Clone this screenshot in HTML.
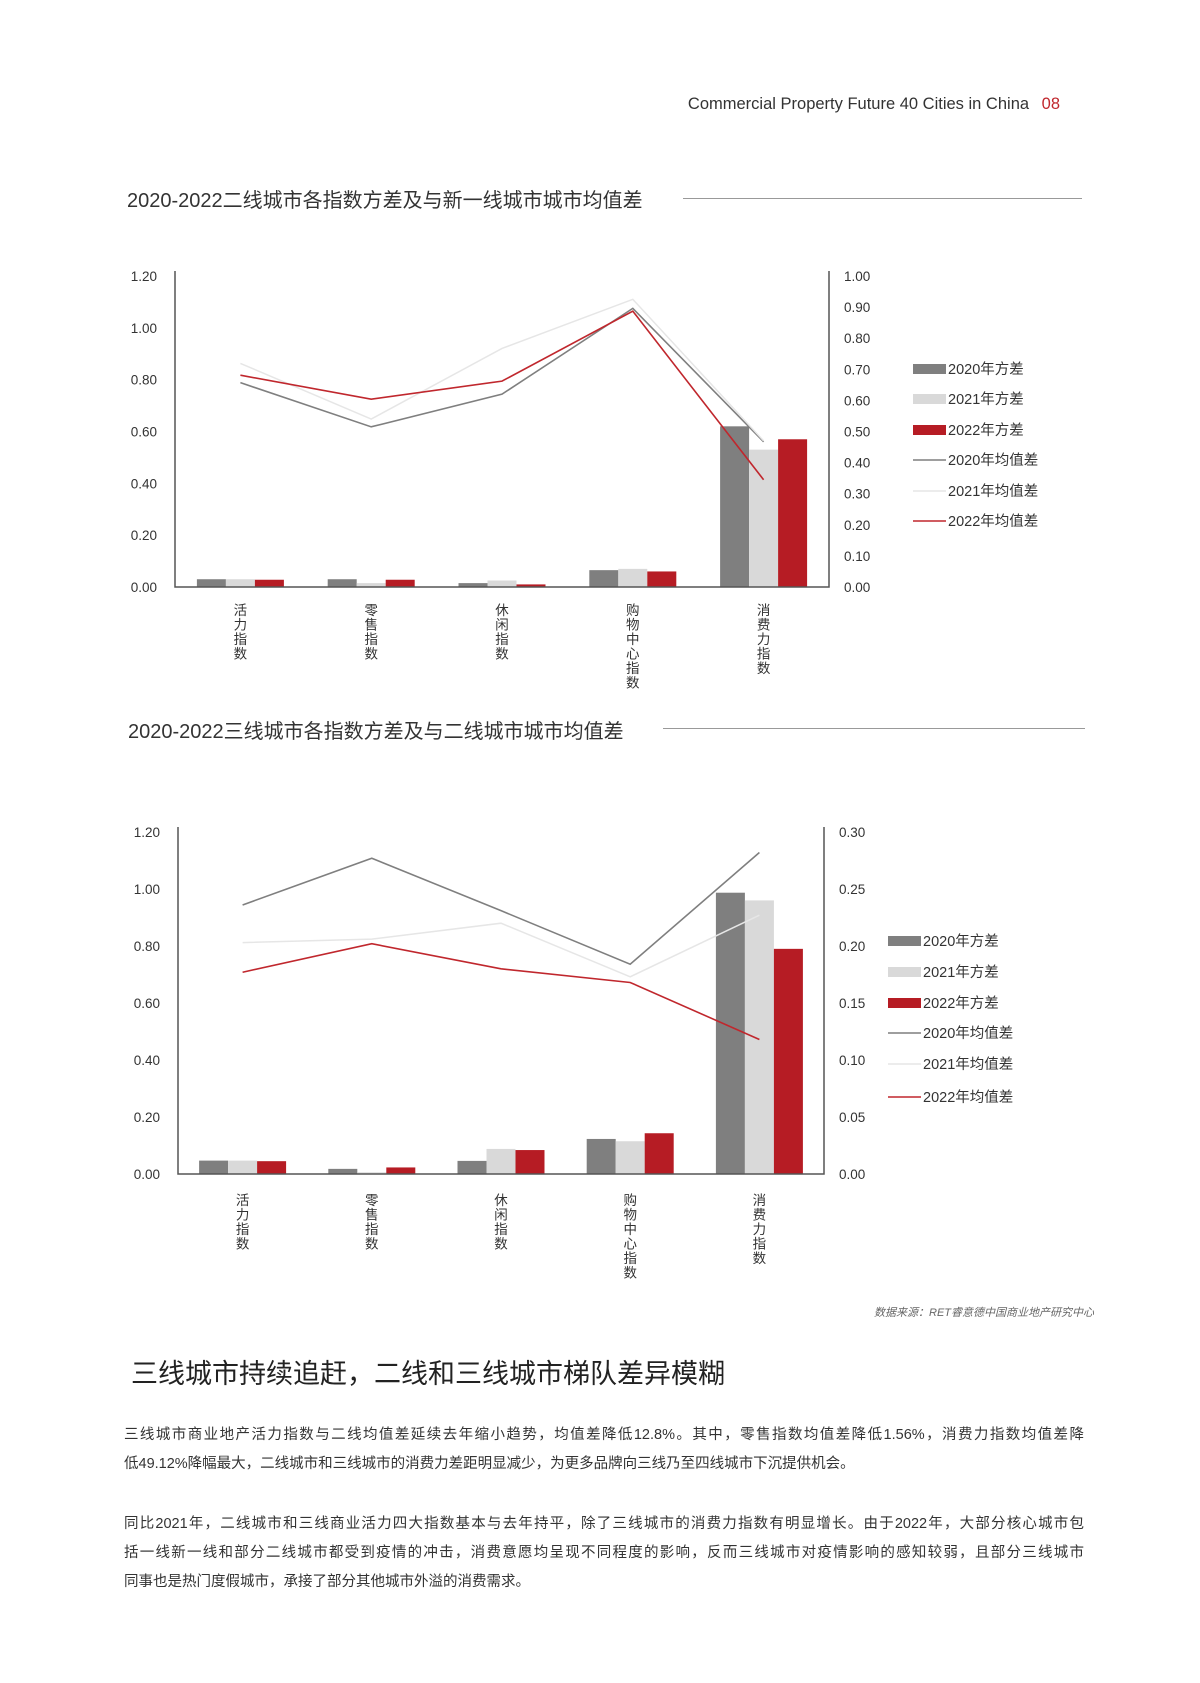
<!DOCTYPE html>
<html><head><meta charset="utf-8"><style>
body{margin:0;background:#fff;}
#page{position:relative;width:1200px;height:1683px;overflow:hidden;background:#fff;font-family:"Liberation Sans","Noto Sans CJK SC",sans-serif;color:#333;}
.abs{position:absolute;white-space:nowrap;}
.para div{height:29px;line-height:29px;text-align:justify;text-align-last:justify;font-size:14.5px;color:#333;}
</style></head><body>
<div id="page">
<div class="abs" style="right:140px;top:95px;font-size:16.5px;color:#333;">Commercial Property Future 40 Cities in China <span style="color:#c0272d;margin-left:8px;">08</span></div>
<div class="abs" style="left:127px;top:184px;font-size:20px;color:#333;">2020-2022二线城市各指数方差及与新一线城市城市均值差</div>
<div class="abs" style="left:683px;top:198px;width:399px;height:1px;background:#999;"></div>
<div class="abs" style="left:128px;top:715px;font-size:20px;color:#333;">2020-2022三线城市各指数方差及与二线城市城市均值差</div>
<div class="abs" style="left:663px;top:728px;width:422px;height:1px;background:#999;"></div>
<svg id="charts" width="1200" height="1683" style="position:absolute;left:0;top:0;"></svg>
<div class="abs" style="left:834px;top:1304px;width:260px;text-align:right;font-size:11px;font-style:italic;color:#666;padding-right:4px;">数据来源：RET睿意德中国商业地产研究中心</div>
<div class="abs" style="left:131px;top:1352px;font-size:27px;color:#222;">三线城市持续追赶，二线和三线城市梯队差异模糊</div>
<div class="abs para" style="left:124px;top:1421px;width:960px;">
<div>三线城市商业地产活力指数与二线均值差延续去年缩小趋势，均值差降低12.8%。其中，零售指数均值差降低1.56%，消费力指数均值差降</div>
<div style="text-align-last:left;">低49.12%降幅最大，二线城市和三线城市的消费力差距明显减少，为更多品牌向三线乃至四线城市下沉提供机会。</div>
</div>
<div class="abs para" style="left:124px;top:1510px;width:960px;">
<div>同比2021年，二线城市和三线商业活力四大指数基本与去年持平，除了三线城市的消费力指数有明显增长。由于2022年，大部分核心城市包</div>
<div>括一线新一线和部分二线城市都受到疫情的冲击，消费意愿均呈现不同程度的影响，反而三线城市对疫情影响的感知较弱，且部分三线城市</div>
<div style="text-align-last:left;">同事也是热门度假城市，承接了部分其他城市外溢的消费需求。</div>
</div>
</div>
<script>
const categories=["活力指数","零售指数","休闲指数","购物中心指数","消费力指数"];
const seriesNames=["2020年方差","2021年方差","2022年方差","2020年均值差","2021年均值差","2022年均值差"];
const c1Var2020=[0.03,0.03,0.015,0.065,0.62];
const c1Var2021=[0.03,0.015,0.025,0.07,0.53];
const c1Var2022=[0.028,0.028,0.01,0.06,0.57];
const c1Mean2020=[0.657,0.515,0.62,0.896,0.467];
const c1Mean2021=[0.719,0.54,0.767,0.925,0.47];
const c1Mean2022=[0.681,0.604,0.662,0.887,0.345];
const c1LeftTicks=["0.00","0.20","0.40","0.60","0.80","1.00","1.20"];
const c1RightTicks=["0.00","0.10","0.20","0.30","0.40","0.50","0.60","0.70","0.80","0.90","1.00"];
const c2Var2020=[0.047,0.018,0.046,0.123,0.987];
const c2Var2021=[0.047,0.006,0.088,0.115,0.96];
const c2Var2022=[0.045,0.023,0.084,0.143,0.79];
const c2Mean2020=[0.236,0.277,0.231,0.184,0.282];
const c2Mean2021=[0.203,0.206,0.22,0.173,0.227];
const c2Mean2022=[0.177,0.202,0.18,0.168,0.118];
const c2LeftTicks=["0.00","0.20","0.40","0.60","0.80","1.00","1.20"];
const c2RightTicks=["0.00","0.05","0.10","0.15","0.20","0.25","0.30"];

const NS="http://www.w3.org/2000/svg";
const svg=document.getElementById('charts');
const barColors=["#7f7f7f","#d9d9d9","#b61c24"];
const lineColors=["#7f7f7f","#e6e6e6","#c0272d"];
function mk(tag,attrs,parent){const e=document.createElementNS(NS,tag);for(const k in attrs)e.setAttribute(k,attrs[k]);(parent||svg).appendChild(e);return e;}

function drawChart(cfg){
  const g=mk('g',{});
  
  
  const L=cfg.left,R=cfg.right,T=cfg.top,B=cfg.bottom;
  const lMax=parseFloat(cfg.lTicks[cfg.lTicks.length-1]);
  const rMax=parseFloat(cfg.rTicks[cfg.rTicks.length-1]);
  const yL=v=>B-(v/lMax)*(B-T);
  const yR=v=>B-(v/rMax)*(B-T);
  const band=(R-L)/categories.length;
  const xC=i=>L+band*(i+0.5);
  const bw=29;
  cfg.bars.forEach((arr,s)=>{
    arr.forEach((v,i)=>{
      const r=mk('rect',{x:xC(i)+(s-1.5)*bw,y:yL(v),width:bw,height:B-yL(v),fill:barColors[s]},g);
      
      
    });
  });
  cfg.lines.forEach((arr,s)=>{
    const pts=arr.map((v,i)=>xC(i)+','+yR(v)).join(' ');
    const p=mk('polyline',{points:pts,fill:'none',stroke:lineColors[s],'stroke-width':s==1?1.5:1.6},g);
    
    
  });
  const ax=mk('path',{d:`M${L},${T-5}V${B}H${R}V${T-5}`,fill:'none',stroke:'#555','stroke-width':1.5},g);
  
  
  cfg.lTicks.forEach(t=>{
    const e=mk('text',{x:L-18,y:yL(parseFloat(t))+5,'text-anchor':'end','font-size':13.5,fill:'#333'},g);
    e.textContent=t;
    
    
  });
  cfg.rTicks.forEach(t=>{
    const e=mk('text',{x:R+15,y:yR(parseFloat(t))+5,'font-size':13.5,fill:'#333'},g);
    e.textContent=t;
    
    
  });
  categories.forEach((c,i)=>{
    const e=mk('text',{x:xC(i),y:cfg.labelY,'text-anchor':'middle','font-size':13.5,fill:'#333'},g);
    
    
    [...c].forEach((ch,k)=>{const ts=mk('tspan',{x:xC(i),y:cfg.labelY+k*14.5},e);ts.textContent=ch;});
  });
  seriesNames.forEach((n,s)=>{
    const y=cfg.legY[s];
    const it=mk('g',{},g);
    
    
    if(s<3) mk('rect',{x:cfg.legX,y:y-5,width:33,height:10,fill:barColors[s]},it);
    else mk('line',{x1:cfg.legX,x2:cfg.legX+33,y1:y,y2:y,stroke:lineColors[s-3],'stroke-width':1.6},it);
    const t=mk('text',{x:cfg.legX+35,y:y+5,'font-size':14.5,fill:'#333'},it);
    t.textContent=n;
  });
}
drawChart({name:'chart1',left:175,right:829,top:276,bottom:587,lTicks:c1LeftTicks,rTicks:c1RightTicks,
  bars:[c1Var2020,c1Var2021,c1Var2022],lines:[c1Mean2020,c1Mean2021,c1Mean2022],labelY:615,
  legX:913,legY:[369,399,430,460,491,521]});
drawChart({name:'chart2',left:178,right:824,top:832,bottom:1174,lTicks:c2LeftTicks,rTicks:c2RightTicks,
  bars:[c2Var2020,c2Var2021,c2Var2022],lines:[c2Mean2020,c2Mean2021,c2Mean2022],labelY:1205,
  legX:888,legY:[941,972,1003,1033,1064,1097]});
</script>
</body></html>
